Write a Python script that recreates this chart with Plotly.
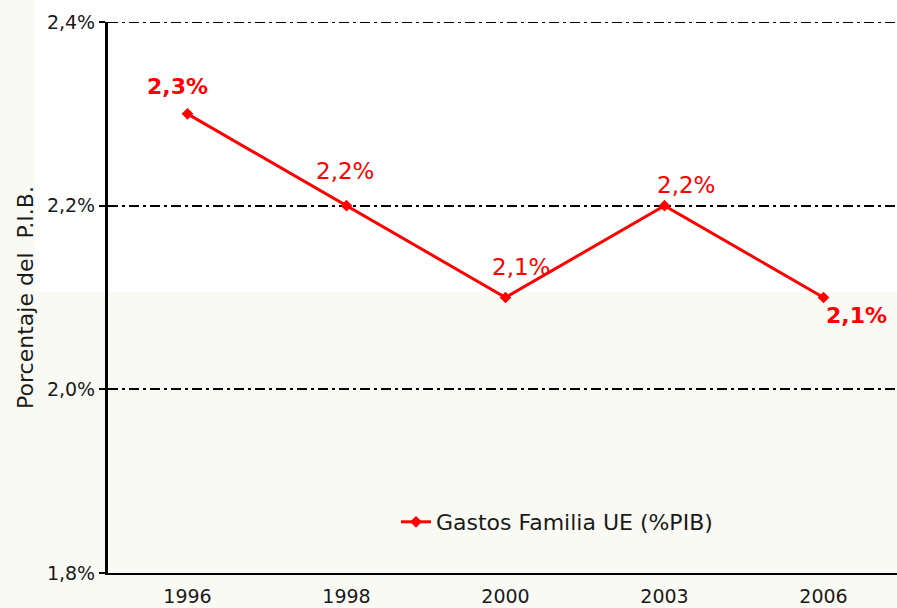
import plotly.graph_objects as go

# ---- data ----
years = ["1996", "1998", "2000", "2003", "2006"]
gasto_pct = [2.3, 2.2, 2.1, 2.2, 2.1]
point_labels = ["2,3%", "2,2%", "2,1%", "2,2%", "2,1%"]
label_bold = [True, False, False, False, True]
y_tick_vals = [1.8, 2.0, 2.2, 2.4]
y_tick_text = ["1,8%", "2,0%", "2,2%", "2,4%"]
series_name = "Gastos Familia UE (%PIB)"
y_title = "Porcentaje del  P.I.B."

# label offsets in pixels (style)
label_offsets = [(-10, 27), (-2, 35), (15, 31), (21, 21), (33, -18)]

RED = "#FF0000"
BEIGE = "#FAFAF5"
DASH = "10px,4px,3px,4px"

W, H = 897, 608
ML, MR, MT, MB = 108, 0, 22, 35
PW = W - ML - MR
PH = H - MT - MB

fig = go.Figure()
fig.add_trace(go.Scatter(
    x=years, y=gasto_pct, name=series_name,
    mode="lines+markers",
    line=dict(color=RED, width=3),
    marker=dict(symbol="diamond", size=9, color=RED),
    cliponaxis=False,
))

annotations = []
for i, (yv, txt, b, (dx, dy)) in enumerate(zip(gasto_pct, point_labels, label_bold, label_offsets)):
    annotations.append(dict(
        x=i, y=yv, xref="x", yref="y", text=(f"<b>{txt}</b>" if b else txt),
        showarrow=False, xshift=dx, yshift=dy,
        font=dict(family="DejaVu Sans", size=23 if not b else 22, color=RED),
        xanchor="center", yanchor="middle",
    ))

shapes = [
    # white upper region (background of reference)
    dict(type="rect", xref="paper", yref="paper",
         x0=(35 - ML) / PW, x1=1.0, y0=(H - MB - 292) / PH, y1=(H - MB) / PH + 0.01,
         fillcolor="white", line=dict(width=0), layer="below"),
    # top gridline (coincides with plot edge)
    dict(type="line", xref="paper", yref="y", x0=0, x1=1, y0=y_tick_vals[-1], y1=y_tick_vals[-1],
         line=dict(color="black", width=2, dash=DASH), layer="below"),
]

fig.update_layout(
    width=W, height=H,
    margin=dict(l=ML, r=MR, t=MT, b=MB, pad=0),
    paper_bgcolor=BEIGE,
    plot_bgcolor="rgba(0,0,0,0)",
    separators=",.",
    showlegend=True,
    legend=dict(
        x=(396 - ML) / PW, y=(H - MB - 522) / PH,
        xanchor="left", yanchor="middle",
        bgcolor="rgba(0,0,0,0)",
        font=dict(family="DejaVu Sans", size=22, color="#1a1a1a"),
    ),
    annotations=annotations,
    shapes=shapes,
    xaxis=dict(
        type="category",
        range=[-0.5, -0.5 + PW / 159.0],
        showgrid=False, zeroline=False, automargin=False,
        showline=True, linecolor="black", linewidth=2,
        ticks="", ticklabelstandoff=5,
        tickfont=dict(family="DejaVu Sans", size=19, color="#1a1a1a"),
    ),
    yaxis=dict(
        range=[1.8, 2.4], automargin=False,
        tickvals=y_tick_vals, ticktext=y_tick_text,
        showgrid=True, gridcolor="black", gridwidth=2,
        griddash=DASH,
        zeroline=False,
        showline=True, linecolor="black", linewidth=3,
        ticks="outside", ticklen=6, tickwidth=2, tickcolor="black",
        tickfont=dict(family="DejaVu Sans", size=19, color="#1a1a1a"),
        title=dict(text=y_title, font=dict(family="DejaVu Sans", size=22, color="#1a1a1a"), standoff=8),
    ),
)

fig.write_html("out.html", config={"displayModeBar": False},
               post_script="document.body.style.margin='0';document.body.style.padding='0';")
